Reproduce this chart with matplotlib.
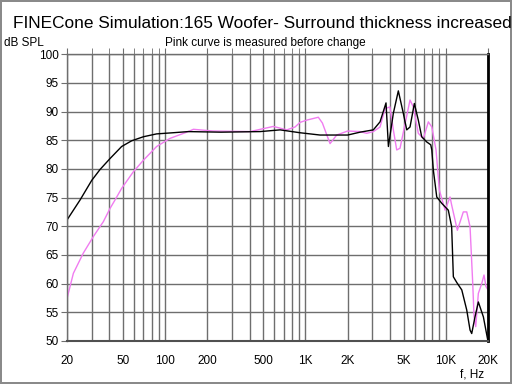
import numpy as np
import matplotlib.pyplot as plt
from matplotlib.ticker import FixedLocator, NullFormatter

plt.rcParams['font.family'] = ['Liberation Sans', 'DejaVu Sans']

# simulated response (black)
sim_f = [20, 24.8, 30, 34.4, 40.5, 49, 57.8, 70, 87, 114, 146, 250, 475, 660, 914,
         1270, 2000, 2450, 3045, 3400, 3750, 3900, 4230, 4590, 4980, 5270, 5560,
         5970, 6370, 6735, 7310, 7810, 7950, 8150, 8380, 8620, 9360, 10420, 11010,
         11320, 11970, 13000, 14100, 14890, 15300, 16150, 17060, 18530, 20000]
sim_db = [71.1, 74.6, 78.0, 79.9, 81.8, 83.9, 84.9, 85.6, 86.1, 86.3, 86.5, 86.4, 86.5, 86.8, 86.3,
          85.9, 85.9, 86.4, 86.8, 88.2, 91.5, 83.9, 89.7, 93.6, 89.7, 86.8, 87.3,
          91.4, 88.5, 85.6, 84.7, 84.2, 83.3, 79.8, 77.5, 75.1, 74.0, 72.8, 69.9,
          61.2, 60.2, 58.9, 55.4, 51.9, 51.3, 54.2, 56.8, 54.2, 49.9]

# measured before change (pink)
meas_f = [20, 22.2, 26.1, 30.8, 36.3, 40.5, 44, 49, 59.4, 70, 87, 108, 146, 159, 220,
          403, 590, 736, 843, 914, 1021, 1235, 1320, 1497, 1670, 2000, 2450, 2735,
          3045, 3400, 3690, 4000, 4230, 4470, 4720, 5070, 5560, 5870, 6370, 6920,
          7510, 7950, 8520, 9000, 9890, 10720, 11010, 12090, 13330, 14100, 14890,
          15560, 15900, 16340, 17060, 18030, 18720, 19330, 20000]
meas_db = [57.4, 61.8, 65.3, 68.2, 70.8, 73.1, 74.6, 76.6, 79.5, 81.5, 83.9, 85.3, 86.5, 86.9, 86.6,
           86.5, 87.4, 86.8, 87.3, 88.1, 88.5, 89.0, 88.0, 84.4, 85.9, 86.6, 86.5, 86.2,
           86.5, 87.3, 90.5, 90.8, 86.8, 83.3, 83.6, 87.3, 92.0, 90.8, 86.2, 85.3,
           88.2, 87.3, 83.3, 76.3, 72.8, 75.1, 73.7, 69.3, 72.5, 72.5, 69.9,
           60.0, 54.2, 52.5, 58.3, 60.0, 61.5, 59.5, 58.9]

grid_f = [20, 30, 40, 50, 60, 70, 80, 90, 100, 200, 300, 400, 500, 600, 700, 800, 900,
          1000, 2000, 3000, 4000, 5000, 6000, 7000, 8000, 9000, 10000, 20000]
label_f = [20, 50, 100, 200, 500, 1000, 2000, 5000, 10000, 20000]
label_txt = ['20', '50', '100', '200', '500', '1K', '2K', '5K', '10K', '20K']
db_ticks = list(range(50, 101, 5))

gray = '#6e6e6e'
fig = plt.figure(figsize=(5.12, 3.84), dpi=100, facecolor='white',
                 edgecolor='#8a8a8a', linewidth=1.5)
ax = fig.add_axes([0.1309, 0.112, 0.8223, 0.747])

ax.set_xscale('log')
ax.set_xlim(20, 20000)
ax.set_ylim(50, 100)
ax.xaxis.set_major_locator(FixedLocator(label_f))
ax.set_xticklabels(label_txt)
ax.xaxis.set_minor_locator(FixedLocator(grid_f))
ax.xaxis.set_minor_formatter(NullFormatter())
ax.set_yticks(db_ticks)
ax.grid(True, which='both', axis='x', color=gray, lw=1)
ax.grid(True, which='major', axis='y', color=gray, lw=1)
ax.set_axisbelow(True)

ax.tick_params(axis='x', which='both', bottom=False, top=True, direction='out',
               length=4, color=gray, labelsize=8.5)
ax.tick_params(axis='x', which='major', labelbottom=True, pad=6)
ax.tick_params(axis='y', direction='out', length=4, color=gray, labelsize=8.5, pad=2)

for s in ['left', 'top']:
    ax.spines[s].set_color(gray)
    ax.spines[s].set_linewidth(1)
ax.spines['bottom'].set_color('#505050')
ax.spines['bottom'].set_linewidth(1.5)
ax.spines['right'].set_color('black')
ax.spines['right'].set_linewidth(2)

ax.plot(meas_f, meas_db, color='#f07cf0', lw=1.0)
ax.plot(sim_f, sim_db, color='black', lw=1.0)

fig.text(0.513, 0.940, 'FINECone Simulation:165 Woofer- Surround thickness increased',
         ha='center', va='center', fontsize=12.4)
fig.text(0.008, 0.888, 'dB SPL', ha='left', va='center', fontsize=8.5)
fig.text(0.519, 0.888, 'Pink curve is measured before change', ha='center', va='center',
         fontsize=8.5)
fig.text(0.945, 0.025, 'f, Hz', ha='right', va='center', fontsize=8.5)

fig.savefig('out.png', dpi=100, facecolor='white', edgecolor='#8a8a8a')
